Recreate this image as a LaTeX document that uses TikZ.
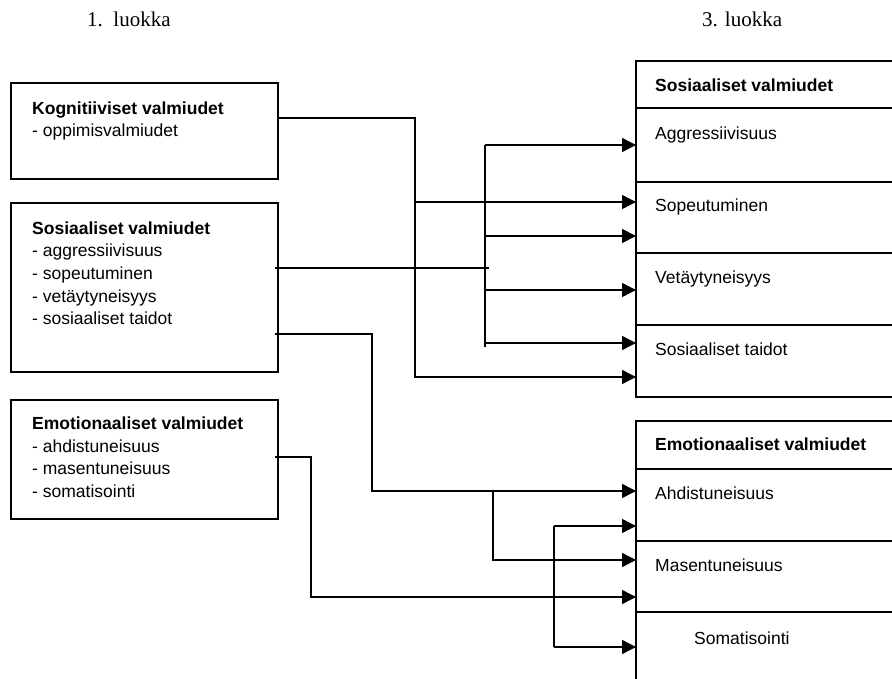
\documentclass[tikz,border=0pt]{standalone}
\usepackage{fontspec}
\setmainfont{Liberation Sans}
\newfontfamily\gradefont{Liberation Serif}
\usetikzlibrary{arrows.meta,calc}
\begin{document}
\begin{tikzpicture}[x=1pt,y=-1pt,
  box/.style={draw,line width=1.8pt,rectangle,anchor=north west,inner sep=0pt,outer sep=0pt},
  txt/.style={anchor=base west,inner sep=0pt,font=\fontsize{17.5}{21}\selectfont},
  head/.style={anchor=base west,inner sep=0pt,font=\fontsize{17.5}{21}\selectfont\bfseries},
  grade/.style={anchor=base west,inner sep=0pt,font=\gradefont\fontsize{21}{25}\selectfont},
  wire/.style={line width=1.5pt},
  arr/.style={wire,-{Triangle[length=14pt,width=14pt]}}]
\useasboundingbox (0,0) rectangle (892,679);
\clip (0,0) rectangle (892,679);

% grade headings
\node[grade] (g1) at (87,27) {1.\ \ luokka};
\node[grade] (g3) at (702,27) {3. luokka};

% left column: first-grade readiness
\node[box,minimum width=267pt,minimum height=96pt] (kog) at (11,83) {};
\node[box,minimum width=267pt,minimum height=169pt] (sos) at (11,203) {};
\node[box,minimum width=267pt,minimum height=119pt] (emo) at (11,400) {};

\node[head] (kogT) at (32,114.5) {Kognitiiviset valmiudet};
\node[txt]  (kog1) at (32,137) {- oppimisvalmiudet};

\node[head] (sosT) at (32,234.5) {Sosiaaliset valmiudet};
\node[txt]  (sos1) at (32,257) {- aggressiivisuus};
\node[txt]  (sos2) at (32,279.5) {- sopeutuminen};
\node[txt]  (sos3) at (32,302) {- vetäytyneisyys};
\node[txt]  (sos4) at (32,324.5) {- sosiaaliset taidot};

\node[head] (emoT) at (32,429.5) {Emotionaaliset valmiudet};
\node[txt]  (emo1) at (32,452) {- ahdistuneisuus};
\node[txt]  (emo2) at (32,474.5) {- masentuneisuus};
\node[txt]  (emo3) at (32,497) {- somatisointi};

% right column: third-grade outcomes (cells run past the page edge)
\node[box,minimum width=300pt,minimum height=47pt] (sh)  at (636,61) {};
\node[box,minimum width=300pt,minimum height=74pt] (agg) at (636,108) {};
\node[box,minimum width=300pt,minimum height=71pt] (sop) at (636,182) {};
\node[box,minimum width=300pt,minimum height=72pt] (vet) at (636,253) {};
\node[box,minimum width=300pt,minimum height=72pt] (tai) at (636,325) {};

\node[box,minimum width=300pt,minimum height=48pt]  (eh)  at (636,421) {};
\node[box,minimum width=300pt,minimum height=72pt]  (ahd) at (636,469) {};
\node[box,minimum width=300pt,minimum height=71pt]  (mas) at (636,541) {};
\node[box,minimum width=300pt,minimum height=100pt] (som) at (636,612) {};

\node[head] (shT)  at (655,91.7) {Sosiaaliset valmiudet};
\node[txt]  (aggT) at (655,140) {Aggressiivisuus};
\node[txt]  (sopT) at (655,211.7) {Sopeutuminen};
\node[txt]  (vetT) at (655,283.3) {Vetäytyneisyys};
\node[txt]  (taiT) at (655,355) {Sosiaaliset taidot};

\node[head] (ehT)  at (655,450.7) {Emotionaaliset valmiudet};
\node[txt]  (ahdT) at (655,499.3) {Ahdistuneisuus};
\node[txt]  (masT) at (655,571.7) {Masentuneisuus};
\node[txt]  (somT) at (694,644) {Somatisointi};

% cognitive readiness -> adjustment, social skills
\coordinate (kj) at (415,202);
\draw[arr] ($(kog.north east)+(0,35)$) -| (kj) -- (kj -| sop.west);
\draw[arr] (kj) |- ($(tai.south west)+(0,-20)$);

% social readiness -> all social outcomes
\coordinate (sa) at (485,145);
\coordinate (sb) at (485,236);
\coordinate (sc) at (485,290);
\coordinate (sd) at (485,343);
\draw[wire] ($(sos.north east)+(-3,65)$) -- (489,268);
\draw[wire] (sa) -- ($(sd)+(0,4)$);
\foreach \c/\t in {sa/agg,sb/sop,sc/vet,sd/tai}
  \draw[arr] (\c) -- (\c -| \t.west);

% social readiness -> anxiety, depression
\coordinate (tj) at (372,491);
\coordinate (tb) at (493,491);
\draw[arr] ($(sos.north east)+(-3,131)$) -| (tj) -- (tj -| ahd.west);
\draw[arr] (tb) |- ($(mas.north west)+(0,19)$);

% emotional readiness -> all emotional outcomes
\coordinate (ej) at (311,597);
\coordinate (ea) at (554,526);
\coordinate (ec) at (554,647);
\draw[arr] ($(emo.north east)+(-3,57)$) -| (ej) -- (ej -| mas.west);
\draw[wire] (ea) -- (ec);
\draw[arr] (ea) -- (ea -| ahd.west);
\draw[arr] (ec) -- (ec -| som.west);
\end{tikzpicture}
\end{document}
